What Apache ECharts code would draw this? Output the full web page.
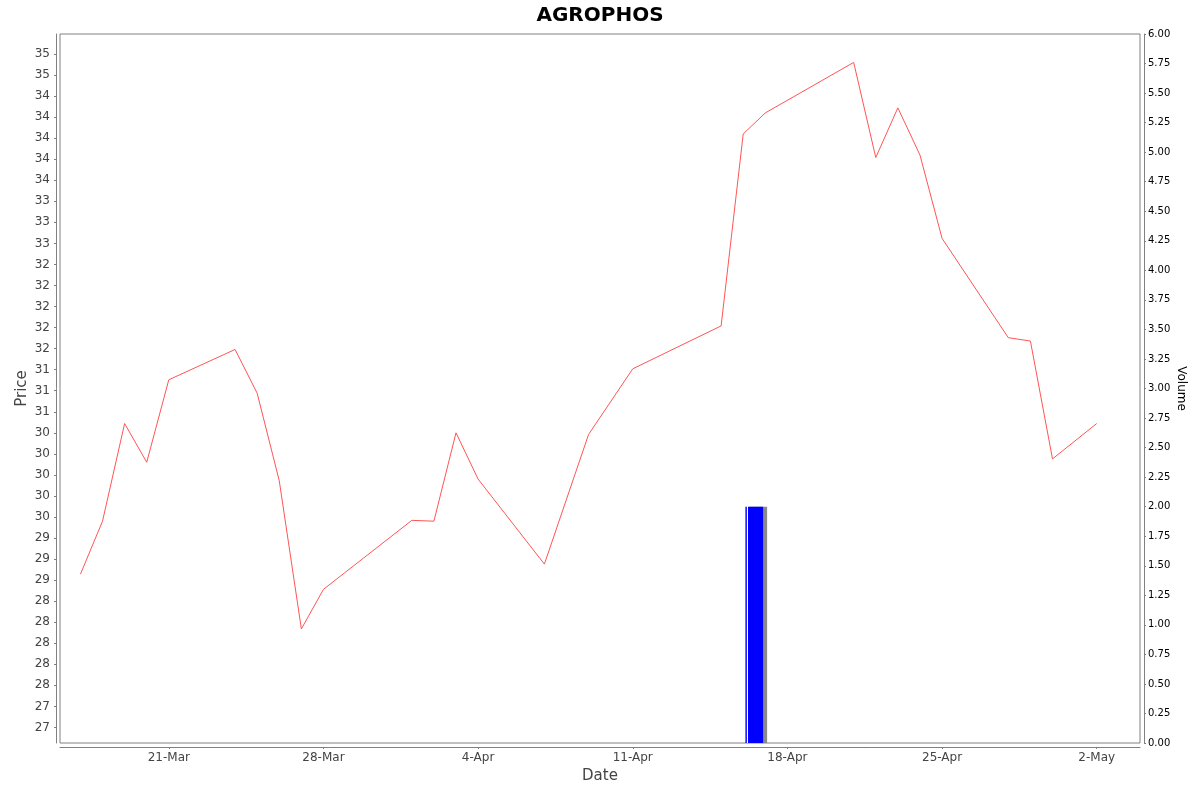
<!DOCTYPE html>
<html>
<head>
<meta charset="utf-8">
<title>AGROPHOS</title>
<script src="https://cdn.jsdelivr.net/npm/echarts@6/dist/echarts.min.js"></script>
<style>
  html, body { margin: 0; padding: 0; background: #fff; }
  #chart { width: 1200px; height: 792px; }
</style>
</head>
<body>
<div id="chart"></div>
<script>
// closing price per trading day
var priceDates = [
  '2024-03-17', '2024-03-18', '2024-03-19', '2024-03-20', '2024-03-21',
  '2024-03-24', '2024-03-25', '2024-03-26', '2024-03-27', '2024-03-28',
  '2024-04-01', '2024-04-02', '2024-04-03', '2024-04-04', '2024-04-07',
  '2024-04-09', '2024-04-11', '2024-04-15', '2024-04-16', '2024-04-17',
  '2024-04-21', '2024-04-22', '2024-04-23', '2024-04-24', '2024-04-25',
  '2024-04-28', '2024-04-29', '2024-04-30', '2024-05-02'
];
var priceValues = [
  28.82, 29.45, 30.61, 30.15, 31.13,
  31.49, 30.97, 29.93, 28.17, 28.64,
  29.46, 29.45, 30.50, 29.95, 28.94,
  30.48, 31.26, 31.77, 34.05, 34.30,
  34.90, 33.77, 34.36, 33.80, 32.81,
  31.63, 31.59, 30.19, 30.61
];

// volume (one bar per day period)
var volDates = ['2024-04-16'];
var volValues = [2];

// axis ticks
var priceTicks = [
  27, 27.25, 27.5, 27.75, 28, 28.25, 28.5, 28.75, 29, 29.25, 29.5, 29.75,
  30, 30.25, 30.5, 30.75, 31, 31.25, 31.5, 31.75, 32, 32.25, 32.5, 32.75,
  33, 33.25, 33.5, 33.75, 34, 34.25, 34.5, 34.75, 35
];
var priceTickLabels = [
  '27', '27', '28', '28', '28', '28', '28', '29', '29', '29', '30', '30',
  '30', '30', '30', '31', '31', '31', '32', '32', '32', '32', '32', '33',
  '33', '33', '34', '34', '34', '34', '34', '35', '35'
];
var dateTicks = ['2024-03-21', '2024-03-28', '2024-04-04', '2024-04-11', '2024-04-18', '2024-04-25', '2024-05-02'];
var monthNames = ['Jan', 'Feb', 'Mar', 'Apr', 'May', 'Jun', 'Jul', 'Aug', 'Sep', 'Oct', 'Nov', 'Dec'];

var DAY = 24 * 3600 * 1000;
function ts(s) {
  var p = s.split('-');
  return Date.UTC(+p[0], +p[1] - 1, +p[2]);
}

var axisGrey = '#808080';
var chart = echarts.init(document.getElementById('chart'));

chart.setOption({
  animation: false,
  backgroundColor: '#fff',
  title: {
    text: 'AGROPHOS',
    left: 'center',
    top: 1,
    textStyle: {fontFamily: 'DejaVu Sans', fontWeight: 'bold', fontSize: 20, color: '#000'}
  },
  grid: {
    left: 60, right: 60, top: 34, bottom: 49,
    show: true, borderColor: axisGrey, borderWidth: 1, backgroundColor: '#fff'
  },
  // dates kept as UTC millisecond values on a plain value axis
  xAxis: {
    type: 'value',
    min: ts('2024-03-21') - 4.925 * DAY,
    max: ts('2024-03-21') + 43.96 * DAY,
    offset: 4,
    name: 'Date',
    nameLocation: 'middle',
    nameGap: 22,
    nameMoveOverlap: false,
    nameTextStyle: {fontFamily: 'DejaVu Sans', fontSize: 15, color: '#444'},
    axisLine: {show: true, onZero: false, lineStyle: {color: axisGrey}},
    axisTick: {show: true, length: 2, lineStyle: {color: axisGrey}, customValues: dateTicks.map(ts)},
    axisLabel: {
      fontFamily: 'DejaVu Sans', fontSize: 12, color: '#444', margin: 5,
      customValues: dateTicks.map(ts),
      formatter: function (v) {
        var d = new Date(v);
        return d.getUTCDate() + '-' + monthNames[d.getUTCMonth()];
      }
    },
    splitLine: {show: false}
  },
  yAxis: [
    {
      type: 'value',
      position: 'left',
      min: 26.815,
      max: 35.2375,
      offset: 4,
      name: 'Price',
      nameLocation: 'middle',
      nameGap: 26,
      nameMoveOverlap: false,
      nameTextStyle: {fontFamily: 'DejaVu Sans', fontSize: 15, color: '#444'},
      axisLine: {show: true, onZero: false, lineStyle: {color: axisGrey}},
      axisTick: {show: true, length: 2, lineStyle: {color: axisGrey}, customValues: priceTicks},
      axisLabel: {
        fontFamily: 'DejaVu Sans', fontSize: 12, color: '#444', margin: 6,
        customValues: priceTicks,
        formatter: function (v) {
          var i = priceTicks.findIndex(function (t) { return Math.abs(t - v) < 1e-6; });
          return i >= 0 ? priceTickLabels[i] : '';
        }
      },
      splitLine: {show: false}
    },
    {
      type: 'value',
      position: 'right',
      min: 0,
      max: 6,
      interval: 0.25,
      offset: 4,
      name: 'Volume',
      nameLocation: 'middle',
      nameRotate: -90,
      nameGap: 31,
      nameMoveOverlap: false,
      nameTextStyle: {fontFamily: 'DejaVu Sans', fontSize: 12, color: '#000'},
      axisLine: {show: true, onZero: false, lineStyle: {color: axisGrey}},
      axisTick: {show: true, length: 2, lineStyle: {color: axisGrey}},
      axisLabel: {
        fontFamily: 'DejaVu Sans', fontSize: 10, color: '#000', margin: 4,
        formatter: function (v) { return v.toFixed(2); }
      },
      splitLine: {show: false}
    }
  ],
  series: [
    {
      name: 'Volume',
      type: 'bar',
      yAxisIndex: 1,
      barWidth: 17.7,
      data: volDates.map(function (d, i) { return [ts(d) + DAY / 2, volValues[i]]; }),
      itemStyle: {
        color: new echarts.graphic.LinearGradient(0, 0, 1, 0, [
          {offset: 0, color: '#0000ff'},
          {offset: 0.06, color: '#0000ff'},
          {offset: 0.07, color: '#ffffff'},
          {offset: 0.16, color: '#ffffff'},
          {offset: 0.17, color: '#0000ff'},
          {offset: 1, color: '#0000ff'}
        ]),
        shadowColor: '#8a8a8a',
        shadowOffsetX: 4,
        shadowOffsetY: 0,
        shadowBlur: 0
      }
    },
    {
      name: 'Price',
      type: 'line',
      yAxisIndex: 0,
      showSymbol: false,
      data: priceDates.map(function (d, i) { return [ts(d), priceValues[i]]; }),
      lineStyle: {color: '#ff5555', width: 1}
    }
  ]
});
</script>
</body>
</html>
